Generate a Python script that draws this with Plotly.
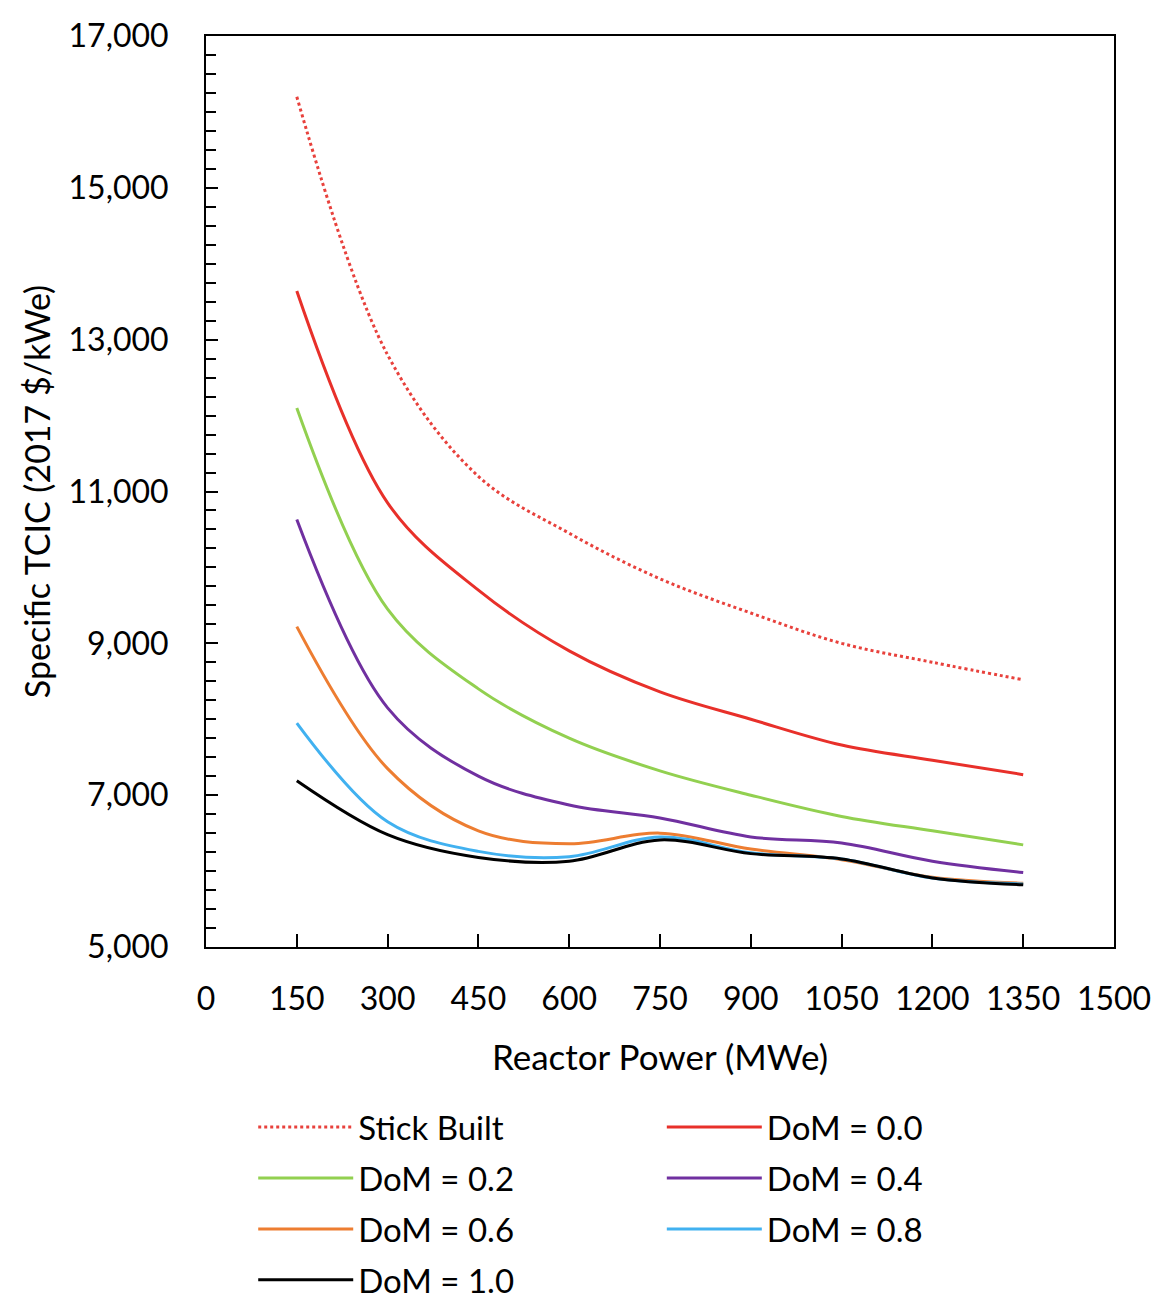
import plotly.graph_objects as go

power = [150, 300, 450, 600, 750, 900, 1050, 1200, 1350]

stick_built = [16200, 12800, 11200, 10450, 9850, 9400, 9000, 8750, 8520]
dom_00 = [13640, 10850, 9700, 8900, 8360, 8000, 7660, 7460, 7270]
dom_02 = [12100, 9450, 8400, 7750, 7320, 7000, 6720, 6530, 6345]
dom_04 = [10630, 8150, 7250, 6870, 6700, 6450, 6370, 6130, 5980]
dom_06 = [9220, 7350, 6530, 6360, 6500, 6290, 6150, 5920, 5840]
dom_08 = [7950, 6650, 6260, 6190, 6450, 6240, 6160, 5910, 5830]
dom_10 = [7190, 6480, 6180, 6130, 6410, 6230, 6160, 5910, 5820]

x_ticks = [0, 150, 300, 450, 600, 750, 900, 1050, 1200, 1350, 1500]
y_ticks = [5000, 7000, 9000, 11000, 13000, 15000, 17000]

series = [
    ("Stick Built", stick_built, "#E8413C", "dot", "legend"),
    ("DoM = 0.0", dom_00, "#E8302A", "solid", "legend2"),
    ("DoM = 0.2", dom_02, "#92D050", "solid", "legend"),
    ("DoM = 0.4", dom_04, "#7030A0", "solid", "legend2"),
    ("DoM = 0.6", dom_06, "#ED7D31", "solid", "legend"),
    ("DoM = 0.8", dom_08, "#41B1F0", "solid", "legend2"),
    ("DoM = 1.0", dom_10, "#000000", "solid", "legend"),
]

FONT = "Lato"
TICK = 32
LEG = 33
XTITLE = 35
YTITLE = 34

fig = go.Figure()
for name, vals, color, dash, leg in series:
    fig.add_trace(go.Scatter(
        x=power, y=vals, name=name, mode="lines", legend=leg, legendgroup=name,
        line=dict(color=color, dash=dash, width=3, shape="spline", smoothing=1.0),
    ))

# page body adds an 8px offset; sizes compensate so the plot area lands at 206..1114 x 36..947
fig.update_layout(
    width=1156, height=1292,
    paper_bgcolor="white", plot_bgcolor="white",
    margin=dict(l=198, r=50, t=28, b=353, autoexpand=False),
    font=dict(family=FONT, color="black", size=TICK),
    showlegend=True,
    legend=dict(x=0.052, y=-0.167, xanchor="left", yanchor="top",
                font=dict(family=FONT, size=LEG, color="black"),
                itemwidth=95, tracegroupgap=5, bgcolor="rgba(0,0,0,0)"),
    legend2=dict(x=0.502, y=-0.167, xanchor="left", yanchor="top",
                 font=dict(family=FONT, size=LEG, color="black"),
                 itemwidth=95, tracegroupgap=5, bgcolor="rgba(0,0,0,0)"),
)

fig.update_xaxes(
    range=[0, 1500], tickvals=x_ticks, ticktext=[str(v) for v in x_ticks],
    automargin=False,
    showgrid=False, zeroline=False, showline=True, linecolor="black", linewidth=2,
    mirror=True, ticks="inside", ticklen=13, tickwidth=1.5, tickcolor="black",
    ticklabelstandoff=23,
    title=dict(text="Reactor Power (MWe)", font=dict(family=FONT, size=XTITLE), standoff=29),
    tickfont=dict(family=FONT, size=TICK),
)
fig.update_yaxes(
    range=[5000, 17000], tickvals=y_ticks, tickformat=",",
    automargin=False,
    showgrid=False, zeroline=False, showline=True, linecolor="black", linewidth=2,
    mirror=True, ticks="inside", ticklen=12, tickwidth=1.5, tickcolor="black",
    ticklabelstandoff=29,
    minor=dict(dtick=250, ticks="inside", ticklen=10, tickwidth=1.5, tickcolor="black", showgrid=False),
    title=dict(text="Specific TCIC (2017 $/kWe)", font=dict(family=FONT, size=YTITLE), standoff=8),
    tickfont=dict(family=FONT, size=TICK),
)

fig.write_html("out.html")
